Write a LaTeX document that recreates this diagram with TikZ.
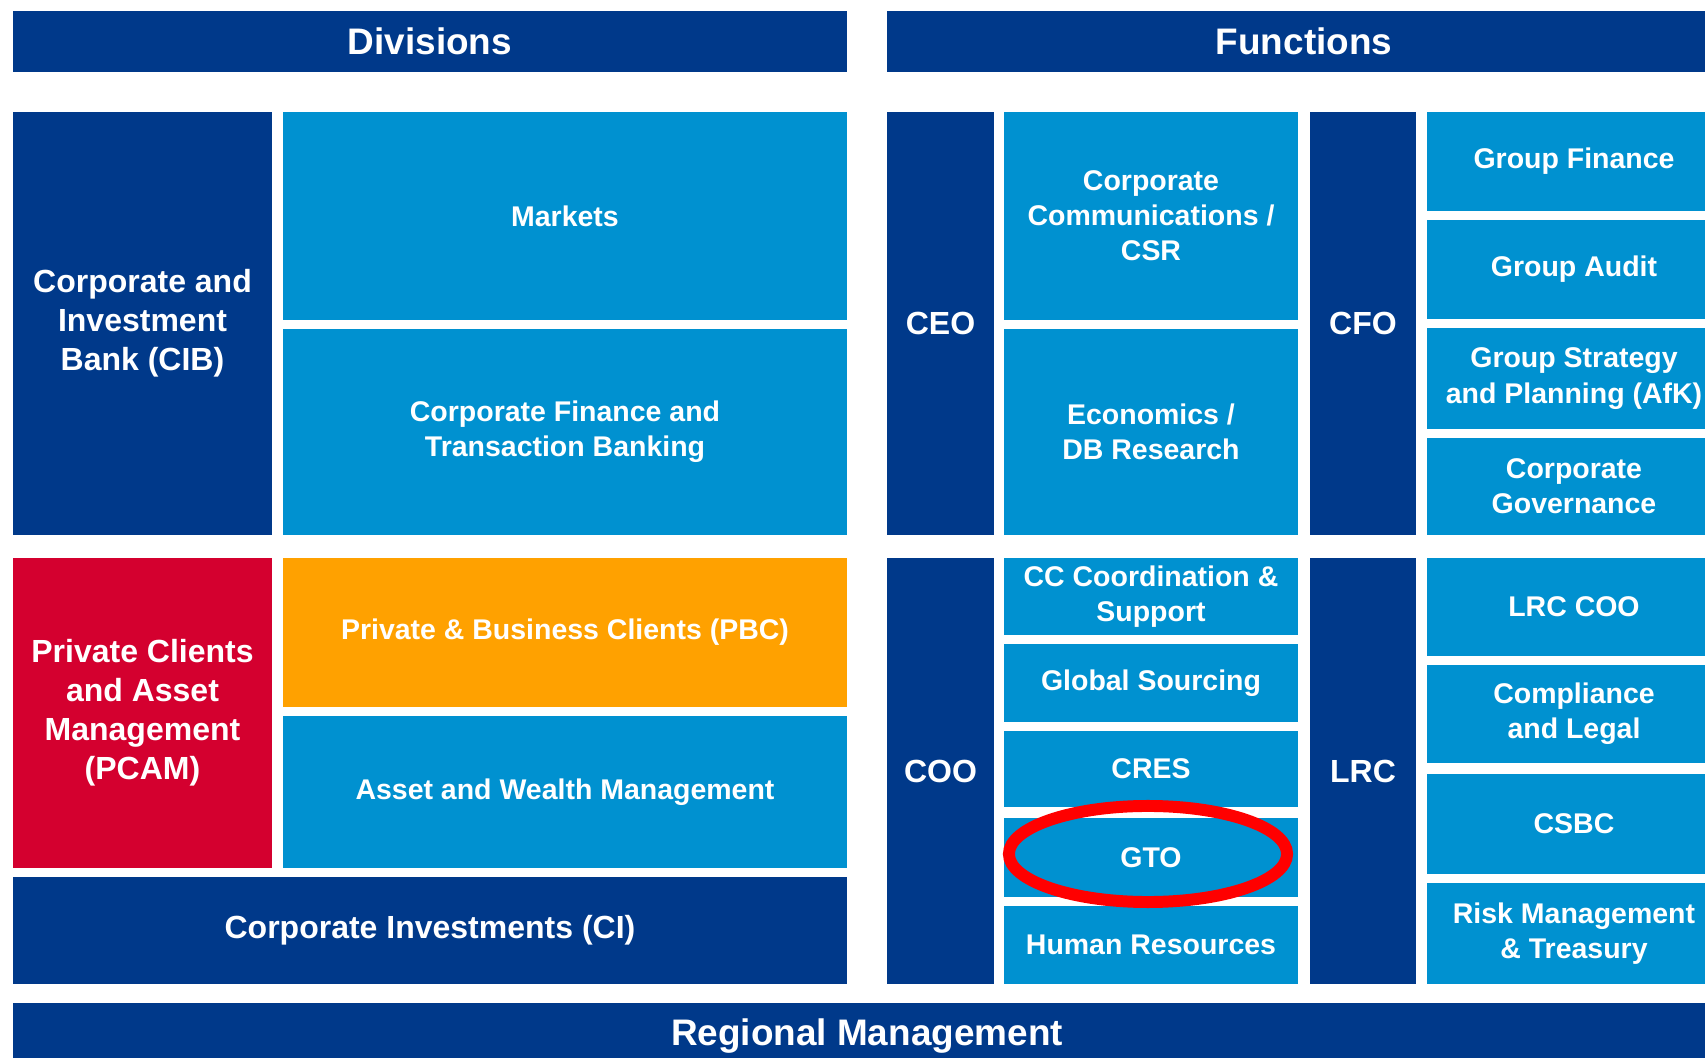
\documentclass[tikz,border=0pt]{standalone}
\usepackage{fontspec}
\setmainfont{Liberation Sans}
\usetikzlibrary{positioning}

\definecolor{dbNavy}{RGB}{0,57,138}
\definecolor{dbBlue}{RGB}{0,145,208}
\definecolor{dbRed}{RGB}{212,0,47}
\definecolor{dbOrange}{RGB}{255,161,0}
\definecolor{markRed}{RGB}{255,0,0}

\begin{document}
\begin{tikzpicture}[x=0.01cm,y=-0.01cm]
	\tikzstyle{box}=[rectangle,inner sep=0pt,align=center,text=white]
	\tikzstyle{headbox}=[box,fill=dbNavy,font={\fontsize{10.5pt}{12pt}\selectfont\bfseries}]
	\tikzstyle{unitbox}=[box,fill=dbNavy,font={\fontsize{9.1pt}{11.1pt}\selectfont\bfseries}]
	\tikzstyle{pcambox}=[unitbox,fill=dbRed]
	\tikzstyle{subbox}=[box,fill=dbBlue,font={\fontsize{8.1pt}{10pt}\selectfont\bfseries}]
	\tikzstyle{pbcbox}=[subbox,fill=dbOrange]

	\clip (0,0) rectangle (1705,1058);

	%headers
	\node[headbox,minimum width=8.34cm,minimum height=0.61cm] (divisions) at (430,41.5) {Divisions};
	\node[headbox,minimum width=8.34cm,minimum height=0.61cm] (functions) at (1304,41.5) {Functions};

	%divisions
	\node[unitbox,minimum width=2.59cm,minimum height=4.23cm] (cib) at (142.5,323.5) {Corporate and\\Investment\\Bank (CIB)};
	\node[subbox,minimum width=5.64cm,minimum height=2.08cm] (markets) at (565,216) {Markets};
	\node[subbox,minimum width=5.64cm,minimum height=2.06cm] (cftb) at (565,432) {Corporate Finance and\\Transaction Banking};
	\node[pcambox,minimum width=2.59cm,minimum height=3.10cm] (pcam) at (142.5,713) {Private Clients\\and Asset\\Management\\(PCAM)};
	\node[pbcbox,minimum width=5.64cm,minimum height=1.49cm] (pbc) at (565,632.5) {Private \& Business Clients (PBC)};
	\node[subbox,minimum width=5.64cm,minimum height=1.52cm] (awm) at (565,792) {Asset and Wealth Management};
	\node[unitbox,minimum width=8.34cm,minimum height=1.07cm] (ci) at (430,930.5) {Corporate Investments (CI)};

	%ceo
	\node[unitbox,minimum width=1.07cm,minimum height=4.23cm] (ceo) at (940.5,323.5) {CEO};
	\node[subbox,minimum width=2.94cm,minimum height=2.08cm] (corpComm) at (1151,216) {Corporate\\Communications /\\CSR};
	\node[subbox,minimum width=2.94cm,minimum height=2.06cm] (economics) at (1151,432) {Economics /\\DB Research};

	%cfo
	\node[unitbox,minimum width=1.06cm,minimum height=4.23cm] (cfo) at (1363,323.5) {CFO};
	\node[subbox,minimum width=2.94cm,minimum height=0.99cm] (groupFinance) at (1574,161.5) {Group Finance};
	\node[subbox,minimum width=2.94cm,minimum height=0.99cm] (groupAudit) at (1574,269.5) {Group Audit};
	\node[subbox,minimum width=2.94cm,minimum height=1.01cm] (groupStrategy) at (1574,378.5) {Group Strategy\\and Planning (AfK)};
	\node[subbox,minimum width=2.94cm,minimum height=0.97cm] (corpGov) at (1574,486.5) {Corporate\\Governance};

	%coo
	\node[unitbox,minimum width=1.07cm,minimum height=4.26cm] (coo) at (940.5,771) {COO};
	\node[subbox,minimum width=2.94cm,minimum height=0.77cm] (ccCoord) at (1151,596.5) {CC Coordination \&\\Support};
	\node[subbox,minimum width=2.94cm,minimum height=0.78cm] (sourcing) at (1151,683) {Global Sourcing};
	\node[subbox,minimum width=2.94cm,minimum height=0.76cm] (cres) at (1151,769) {CRES};
	\node[subbox,minimum width=2.94cm,minimum height=0.79cm] (gto) at (1151,857.5) {GTO};
	\node[subbox,minimum width=2.94cm,minimum height=0.78cm] (hr) at (1151,945) {Human Resources};

	%lrc
	\node[unitbox,minimum width=1.06cm,minimum height=4.26cm] (lrc) at (1363,771) {LRC};
	\node[subbox,minimum width=2.94cm,minimum height=0.98cm] (lrcCoo) at (1574,607) {LRC COO};
	\node[subbox,minimum width=2.94cm,minimum height=0.98cm] (compliance) at (1574,714) {Compliance\\and Legal};
	\node[subbox,minimum width=2.94cm,minimum height=1.00cm] (csbc) at (1574,824) {CSBC};
	\node[subbox,minimum width=2.94cm,minimum height=1.01cm] (risk) at (1574,933.5) {Risk Management\\\& Treasury};

	%regional
	\node[headbox,minimum width=17.08cm,minimum height=0.66cm] (regional) at (867,1036) {Regional Management};

	%highlight
	\draw[markRed,line width=3.4pt] (1148,854) ellipse [x radius=1.39cm,y radius=0.48cm];
\end{tikzpicture}
\end{document}
